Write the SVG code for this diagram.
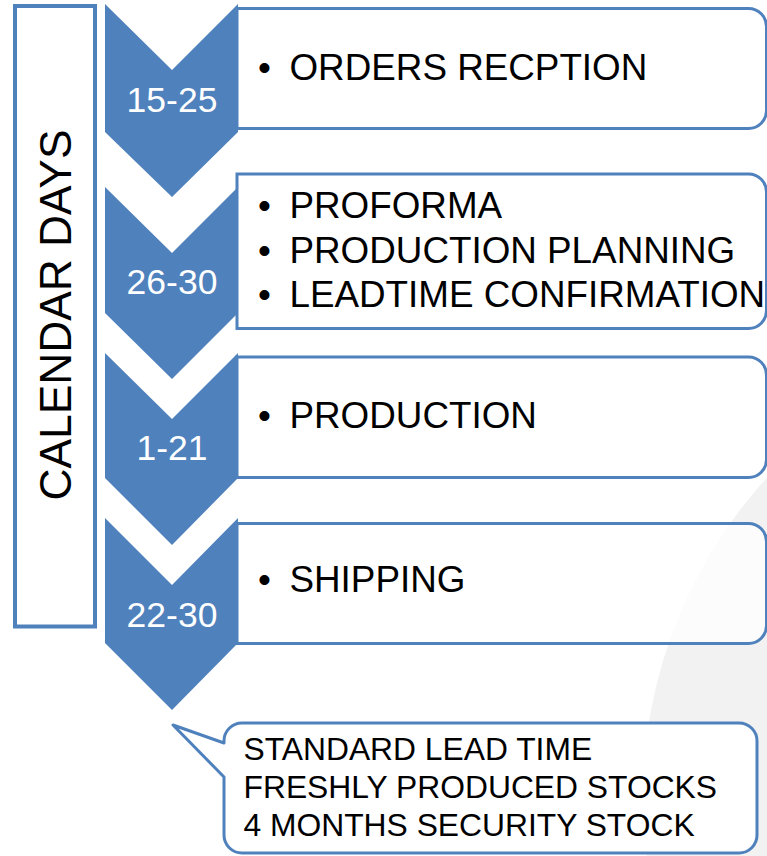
<svg xmlns="http://www.w3.org/2000/svg" width="767" height="856" viewBox="0 0 767 856">
  <style>
    .chev { fill: #4f81bd; }
    .box { fill: #ffffff; fill-opacity: 0.75; stroke: #4f81bd; stroke-width: 3; }
    .frame { fill: #ffffff; stroke: #4f81bd; stroke-width: 4; }
    .callout { fill: #ffffff; stroke: #4f81bd; stroke-width: 3; stroke-linejoin: round; }
    .days { font-family: "Liberation Sans", Arial, sans-serif; font-size: 35.5px; fill: #ffffff; text-anchor: middle; }
    .item { font-family: "Liberation Sans", Arial, sans-serif; font-size: 36.8px; fill: #000000; }
    .note { font-family: "Liberation Sans", Arial, sans-serif; font-size: 31.8px; fill: #000000; }
    .side { font-family: "Liberation Sans", Arial, sans-serif; font-size: 44.3px; fill: #000000; text-anchor: middle; }
  </style>

  <!-- page background with the pale disc at the lower right -->
  <rect x="0" y="0" width="767" height="856" fill="#ffffff"/>
  <circle cx="1116" cy="797" r="473" fill="#f2f2f2"/>

  <!-- vertical title frame -->
  <g id="calendar-days">
    <rect class="frame" x="15" y="6" width="80" height="620.5"/>
    <text class="side" transform="translate(71,315) rotate(-90)">CALENDAR DAYS</text>
  </g>

  <!-- step 1 -->
  <g id="step-orders">
    <path class="box" d="M237,8.5 H748.5 A18,18 0 0 1 766.5,26.5 V110.5 A18,18 0 0 1 748.5,128.5 H237 Z"/>
    <path class="chev" d="M105,4 L172,70 L238,4 V132 L172,197 L105,132 Z"/>
    <text class="days" x="172" y="112">15-25</text>
    <text class="item" x="258" y="80">•</text>
    <text class="item" x="289.5" y="80">ORDERS RECPTION</text>
  </g>

  <!-- step 2 -->
  <g id="step-proforma">
    <path class="box" d="M237,174 H748.5 A18,18 0 0 1 766.5,192 V310.5 A18,18 0 0 1 748.5,328.5 H237 Z"/>
    <path class="chev" d="M105,187 L172,253 L238,187 V313 L172,379 L105,313 Z"/>
    <text class="days" x="172" y="294">26-30</text>
    <text class="item" x="258" y="218">•</text>
    <text class="item" x="289.5" y="218">PROFORMA</text>
    <text class="item" x="258" y="262.5">•</text>
    <text class="item" x="289.5" y="262.5">PRODUCTION PLANNING</text>
    <text class="item" x="258" y="307">•</text>
    <text class="item" x="289.5" y="307">LEADTIME CONFIRMATION</text>
  </g>

  <!-- step 3 -->
  <g id="step-production">
    <path class="box" d="M237,357 H748.5 A18,18 0 0 1 766.5,375 V459.5 A18,18 0 0 1 748.5,477.5 H237 Z"/>
    <path class="chev" d="M105,353 L172,419 L238,353 V478 L172,545 L105,478 Z"/>
    <text class="days" x="172" y="460">1-21</text>
    <text class="item" x="258" y="428">•</text>
    <text class="item" x="289.5" y="428">PRODUCTION</text>
  </g>

  <!-- step 4 -->
  <g id="step-shipping">
    <path class="box" d="M237,523.5 H748.5 A18,18 0 0 1 766.5,541.5 V625.5 A18,18 0 0 1 748.5,643.5 H237 Z"/>
    <path class="chev" d="M105,518 L172,585 L238,518 V643 L172,710 L105,643 Z"/>
    <text class="days" x="172" y="627">22-30</text>
    <text class="item" x="258" y="592">•</text>
    <text class="item" x="289.5" y="592">SHIPPING</text>
  </g>

  <!-- summary callout -->
  <g id="lead-time-note">
    <path class="callout" d="M242,723 H739 A18,18 0 0 1 757,741 V835 A18,18 0 0 1 739,853 H242 A18,18 0 0 1 224,835 V777 L173,725 L224,743 V741 A18,18 0 0 1 242,723 Z"/>
    <text class="note" x="243.5" y="760">STANDARD LEAD TIME</text>
    <text class="note" x="243.5" y="798">FRESHLY PRODUCED STOCKS</text>
    <text class="note" x="243.5" y="836">4 MONTHS SECURITY STOCK</text>
  </g>

  <g id="connectors"></g>
</svg>
